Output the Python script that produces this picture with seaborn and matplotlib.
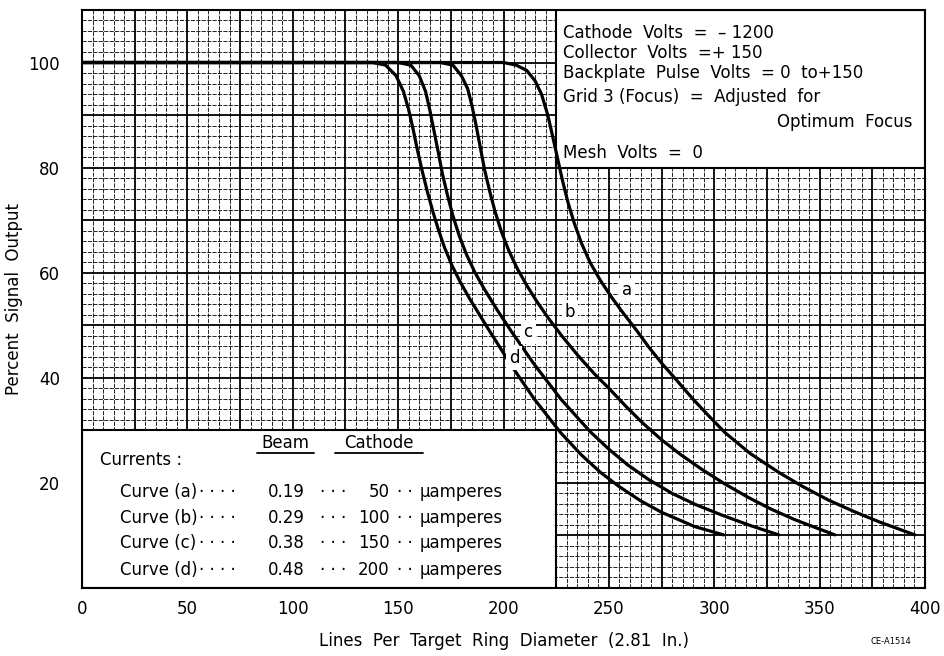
import pandas as pd
import matplotlib
matplotlib.use("Agg")
import matplotlib.pyplot as plt
from matplotlib.patches import Rectangle
from matplotlib.ticker import MultipleLocator, FuncFormatter
import seaborn as sns

# Curves (lines per target ring diameter, percent signal output)
x_a = [0, 200, 206, 211, 215, 218, 221, 223, 225.5, 228, 230.5, 233.5, 237, 241, 246, 251.5, 257, 263,
       269, 275, 282, 290, 297.5, 305, 317, 330.6, 342, 354.3, 366, 378.1, 387, 395.2]
y_a = [100, 100, 99.5, 98.5, 96.5, 94, 90, 86.5, 82, 77.5, 73.5, 69.5, 65.6, 62, 58.5, 55.2, 52.2, 49.1,
       45.8, 42.8, 39.6, 35.9, 32.7, 29.6, 25.6, 22, 19.3, 16.7, 14.6, 12.6, 11.3, 10.1]

x_b = [0, 170, 176, 180, 183, 185, 187, 189, 191, 193.5, 196, 199, 202.5, 206.5, 211, 216, 221, 228,
       235.4, 243, 250, 258, 266, 275, 284, 294, 305, 316.3, 327, 338.2, 348, 357.2]
y_b = [100, 100, 99.5, 97.5, 95, 91.8, 88, 83.8, 79.6, 75.4, 71.6, 67.8, 64.2, 60.8, 57.6, 54.4, 51.5, 47.8,
       44.2, 40.8, 38, 34.6, 31.4, 28.2, 25.4, 22.6, 19.8, 17.2, 15, 13, 11.5, 10.1]

x_c = [0, 150, 156, 160, 163, 165, 167, 169, 171, 173.5, 176, 179, 182.5, 186.5, 191, 197, 203.6,
       214.5, 227.3, 241, 250, 259, 269, 280, 291, 303.4, 317, 330.6]
y_c = [100, 100, 99.5, 97.5, 94.5, 91, 87, 83, 78.8, 74.6, 70.8, 67, 63.4, 60, 56.8, 52.9, 48.9,
       42.6, 35.9, 29.8, 26.4, 23.4, 20.6, 18, 15.9, 13.9, 11.9, 10.1]

x_d = [0, 138, 144, 149, 152.5, 155, 157, 159, 161.5, 164, 166.5, 169, 172, 175.5, 179.5, 184,
       192.6, 203.6, 214.5, 227, 237, 246, 254.5, 265, 275, 290.6, 304.4]
y_d = [100, 100, 99.5, 97.5, 94.5, 91, 87.5, 83.6, 79.2, 75.2, 71.6, 68.3, 64.8, 61.4, 58.2, 55,
       49.4, 42.4, 36, 29.6, 25.3, 22, 19.4, 16.6, 14.4, 11.7, 10.1]

curve_names = ["a", "b", "c", "d"]
label_x = [258.7, 231.6, 211.7, 205]
label_y = [56.7, 52.5, 48.7, 43.8]

x_ticks = [0, 50, 100, 150, 200, 250, 300, 350, 400]
y_ticks = [20, 40, 60, 80, 100]

conditions = [
    "Cathode  Volts  =  \u2013 1200",
    "Collector  Volts  =+ 150",
    "Backplate  Pulse  Volts  = 0  to+150",
    "Grid 3 (Focus)  =  Adjusted  for",
    "Optimum  Focus",
    "Mesh  Volts  =  0",
]
beam_currents = ["0.19", "0.29", "0.38", "0.48"]
cathode_currents = ["50", "100", "150", "200"]

frames = []
for name, xs, ys in zip(curve_names, [x_a, x_b, x_c, x_d], [y_a, y_b, y_c, y_d]):
    frames.append(pd.DataFrame({"lines": xs, "signal": ys, "curve": name}))
df = pd.concat(frames, ignore_index=True)

sns.set_style("white")
plt.rcParams["font.family"] = ["DejaVu Sans"]
plt.rcParams["text.color"] = "black"
plt.rcParams["axes.labelcolor"] = "black"
plt.rcParams["xtick.color"] = "black"
plt.rcParams["ytick.color"] = "black"

fig = plt.figure(figsize=(9.44, 6.56), dpi=100)
ax = fig.add_axes([0.0869, 0.1037, 0.8930, 0.8811])

sns.lineplot(data=df, x="lines", y="signal", hue="curve", palette=["black"] * 4,
             estimator=None, sort=False, legend=False, linewidth=2.3, ax=ax, zorder=3)

ax.set_xlim(0, 400)
ax.set_ylim(0, 110)

# graph-paper grid
ax.xaxis.set_major_locator(MultipleLocator(25))
ax.xaxis.set_minor_locator(MultipleLocator(5))
ax.yaxis.set_major_locator(MultipleLocator(10))
ax.yaxis.set_minor_locator(MultipleLocator(2))
ax.xaxis.set_major_formatter(FuncFormatter(lambda v, p: f"{v:.0f}" if v in x_ticks else ""))
ax.yaxis.set_major_formatter(FuncFormatter(lambda v, p: f"{v:.0f}" if v in y_ticks else ""))
ax.set_axisbelow(True)
ax.grid(which="major", color="black", linewidth=1.3)
ax.grid(which="minor", color="black", linewidth=0.6, linestyle=(0, (5, 1.5)))
ax.tick_params(which="both", length=0)
ax.tick_params(axis="x", labelsize=12, pad=9)
ax.tick_params(axis="y", labelsize=12, pad=16)
ax.get_xticklabels()[0].set_horizontalalignment("right")
for s in ax.spines.values():
    s.set_color("black")
    s.set_linewidth(1.5)

ax.set_xlabel("Lines  Per  Target  Ring  Diameter  (2.81  In.)", fontsize=12, labelpad=10)
ax.set_ylabel("Percent  Signal  Output", fontsize=12, labelpad=4)

# white boxes over the grid
ax.add_patch(Rectangle((225, 80), 175, 30, facecolor="white", edgecolor="black", linewidth=1.5, zorder=2))
ax.add_patch(Rectangle((0, 0), 225, 30, facecolor="white", edgecolor="black", linewidth=1.5, zorder=2))

# conditions text (top right)
cond_y = [105.6, 101.8, 98.0, 93.4, 88.7, 82.8]
for i, (txt, ty) in enumerate(zip(conditions, cond_y)):
    if i == 4:
        ax.text(394, ty, txt, fontsize=12, ha="right", va="center", zorder=4)
    else:
        ax.text(228.3, ty, txt, fontsize=12, ha="left", va="center", zorder=4)

# currents table (bottom left)
ax.text(96.5, 27.6, "Beam", fontsize=12, ha="center", va="center", zorder=4)
ax.text(141, 27.6, "Cathode", fontsize=12, ha="center", va="center", zorder=4)
ax.plot([83, 110], [25.6, 25.6], color="black", linewidth=1.3, zorder=4)
ax.plot([120, 162], [25.6, 25.6], color="black", linewidth=1.3, zorder=4)
ax.text(8.6, 24.4, "Currents :", fontsize=12, ha="left", va="center", zorder=4)
row_y = [18.3, 13.3, 8.6, 3.4]
for name, beam, cath, ty in zip(curve_names, beam_currents, cathode_currents, row_y):
    ax.text(18, ty, f"Curve ({name})", fontsize=12, ha="left", va="center", zorder=4)
    ax.text(64, ty, "\u00b7 \u00b7 \u00b7 \u00b7", fontsize=12, ha="center", va="center", zorder=4)
    ax.text(88, ty, beam, fontsize=12, ha="left", va="center", zorder=4)
    ax.text(119, ty, "\u00b7 \u00b7 \u00b7", fontsize=12, ha="center", va="center", zorder=4)
    ax.text(146, ty, cath, fontsize=12, ha="right", va="center", zorder=4)
    ax.text(153, ty, "\u00b7 \u00b7", fontsize=12, ha="center", va="center", zorder=4)
    ax.text(160, ty, "\u00b5amperes", fontsize=12, ha="left", va="center", zorder=4)

# curve letters
for name, lx, ly in zip(curve_names, label_x, label_y):
    ax.text(lx, ly, name, fontsize=12, ha="center", va="center", zorder=4,
            bbox=dict(facecolor="white", edgecolor="none", pad=2))

fig.text(0.965, 0.022, "CE-A1514", fontsize=6, ha="right", va="center")

fig.savefig("out.png", dpi=100)
